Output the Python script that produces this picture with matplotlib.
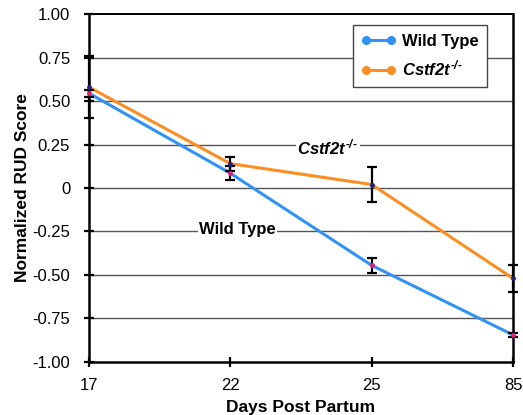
import numpy as np
import matplotlib
matplotlib.use("Agg")
import matplotlib.pyplot as plt
from matplotlib.lines import Line2D

plt.rcParams['font.family'] = ['Liberation Sans', 'DejaVu Sans']
plt.rcParams['mathtext.fontset'] = 'custom'
plt.rcParams['mathtext.it'] = 'Liberation Sans:bold:italic'
plt.rcParams['mathtext.rm'] = 'Liberation Sans:bold:italic'
plt.rcParams['mathtext.default'] = 'it'

# data
days = ["17", "22", "25", "85"]
wt_score = [0.545, 0.085, -0.445, -0.845]
wt_err = [0.02, 0.04, 0.045, 0.012]
ko_score = [0.58, 0.14, 0.02, -0.52]
ko_err = [0.18, 0.04, 0.10, 0.078]

yticks = [1.0, 0.75, 0.5, 0.25, 0, -0.25, -0.5, -0.75, -1.0]
ytick_labels = ["1.00", "0.75", "0.50", "0.25", "0", "-0.25", "-0.50", "-0.75", "-1.00"]

blue = "#3192f5"
orange = "#fb8e22"
ko_label = r"$Cstf2t^{\text{-/-}}$"

fig = plt.figure(figsize=(5.23, 4.15), dpi=100)
ax = fig.add_axes([0.170, 0.128, 0.811, 0.838])

x = np.arange(len(days))

for yv in yticks[1:-1]:
    ax.axhline(yv, color="#555555", lw=1.0, zorder=1)

ax.plot(x, wt_score, color=blue, lw=2.2, zorder=3)
ax.plot(x, ko_score, color=orange, lw=2.2, zorder=3)
ax.errorbar(x, wt_score, yerr=wt_err, fmt="none", ecolor="black", elinewidth=1.6,
            capsize=3.5, capthick=1.6, zorder=4, clip_on=False)
ax.errorbar(x, ko_score, yerr=ko_err, fmt="none", ecolor="black", elinewidth=1.6,
            capsize=3.5, capthick=1.6, zorder=4, clip_on=False)
ax.plot(x, wt_score, ls="none", marker="o", ms=2.5, color="#e0207a", zorder=5, clip_on=False)
ax.plot(x, ko_score, ls="none", marker="o", ms=2.5, color="#202080", zorder=5, clip_on=False)

ax.set_xlim(0, 3)
ax.set_ylim(-1.0, 1.0)
ax.set_xticks(x)
ax.set_xticklabels(days, fontsize=12)
ax.set_yticks(yticks)
ax.set_yticklabels(ytick_labels, fontsize=12)
ax.tick_params(direction="inout", length=7, width=1.6, colors="black")
ax.tick_params(axis="x", pad=8)
ax.tick_params(axis="y", pad=10)

for s in ax.spines.values():
    s.set_linewidth(1.8)
    s.set_color("black")
ax.spines["top"].set_linewidth(1.4)

ax.set_xlabel("Days Post Partum", fontsize=12.5, fontweight="bold", labelpad=5)
ax.set_ylabel("Normalized RUD Score", fontsize=12.5, fontweight="bold", labelpad=2)

ax.text(1.69, 0.236, ko_label, fontsize=12, ha="center", va="center",
        bbox=dict(facecolor="white", edgecolor="none", pad=1), zorder=2)
ax.text(1.05, -0.24, "Wild Type", fontsize=12, fontweight="bold", ha="center", va="center",
        bbox=dict(facecolor="white", edgecolor="none", pad=1), zorder=2)

handles = [
    Line2D([0, 1], [0, 0], color=blue, lw=2.2, marker="o", ms=5.5),
    Line2D([0, 1], [0, 0], color=orange, lw=2.2, marker="o", ms=5.5),
]
leg = ax.legend(handles, ["Wild Type", ko_label], loc="upper left",
                bbox_to_anchor=(0.623, 0.968), borderaxespad=0, fancybox=False, framealpha=1,
                edgecolor="#444444", numpoints=2, handlelength=2.1,
                borderpad=0.5, labelspacing=0.6, handletextpad=0.35,
                prop=dict(weight="bold", size=12))
leg.get_frame().set_linewidth(1.0)
leg.set_zorder(6)

fig.savefig("out.png", dpi=100)
